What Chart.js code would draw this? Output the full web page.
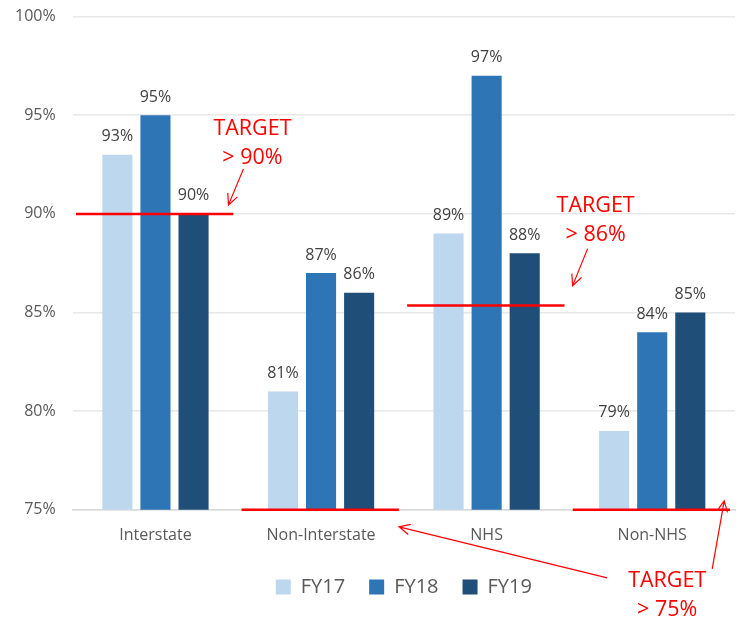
<!DOCTYPE html>
<html>
<head>
<meta charset="utf-8">
<script src="https://cdn.jsdelivr.net/npm/chart.js@4/dist/chart.umd.min.js"></script>
<style>
  html, body { margin: 0; padding: 0; background: #fff; overflow: hidden; }
  #wrap { width: 740px; height: 619px; overflow: hidden; }
  #chart { display: block; margin-top: -10px; }
</style>
</head>
<body>
<div id="wrap"><canvas id="chart" width="740" height="629"></canvas></div>
<script>
// Categories and values
const categories = ['Interstate', 'Non-Interstate', 'NHS', 'Non-NHS'];
const fy17 = [93, 81, 89, 79];
const fy18 = [95, 87, 97, 84];
const fy19 = [90, 86, 88, 85];
// where each red target line sits (NHS line is drawn a bit under 86)
const targetLines = [90, 75, 85.35, 75];
const yTicks = [75, 80, 85, 90, 95, 100];

const FONT = "'Open Sans', 'Noto Sans', sans-serif";
const RED = '#ff0000';

function arrow(ctx, x1, y1, x2, y2) {
  const ang = Math.atan2(y2 - y1, x2 - x1);
  const len = 12;
  ctx.beginPath();
  ctx.moveTo(x1, y1);
  ctx.lineTo(x2, y2);
  ctx.moveTo(x2 - len * Math.cos(ang - 0.45), y2 - len * Math.sin(ang - 0.45));
  ctx.lineTo(x2, y2);
  ctx.lineTo(x2 - len * Math.cos(ang + 0.45), y2 - len * Math.sin(ang + 0.45));
  ctx.stroke();
}

function targetText(ctx, x, y, pct) {
  ctx.fillStyle = RED;
  ctx.font = '21.5px ' + FONT;
  ctx.textAlign = 'center';
  ctx.textBaseline = 'middle';
  ctx.fillText('TARGET', x, y);
  ctx.fillText('> ' + pct + '%', x, y + 29);
}

const extrasPlugin = {
  id: 'extras',
  afterDatasetsDraw(chart) {
    const ctx = chart.ctx;
    const xs = chart.scales.x, ys = chart.scales.y;
    const w = (chart.chartArea.right - chart.chartArea.left) / categories.length;

    // value labels above bars
    ctx.save();
    ctx.font = '16px ' + FONT;
    ctx.fillStyle = '#404040';
    ctx.textAlign = 'center';
    ctx.textBaseline = 'bottom';
    chart.data.datasets.forEach((ds, i) => {
      chart.getDatasetMeta(i).data.forEach((bar, j) => {
        ctx.fillText(ds.data[j] + '%', bar.x, bar.y - 10);
      });
    });
    ctx.restore();

    // red target lines
    ctx.save();
    ctx.strokeStyle = RED;
    ctx.lineWidth = 2.5;
    targetLines.forEach((t, i) => {
      const cx = xs.getPixelForValue(i);
      const y = ys.getPixelForValue(t);
      ctx.beginPath();
      ctx.moveTo(cx - 0.48 * w, y);
      ctx.lineTo(cx + 0.47 * w, y);
      ctx.stroke();
    });
    ctx.restore();

    // annotations
    ctx.save();
    ctx.strokeStyle = RED;
    ctx.lineWidth = 1.2;
    const c0 = xs.getPixelForValue(0), c2 = xs.getPixelForValue(2), c3 = xs.getPixelForValue(3);
    const y0 = ys.getPixelForValue(targetLines[0]);
    const y2 = ys.getPixelForValue(targetLines[2]);
    const yb = ys.getPixelForValue(75);

    targetText(ctx, c0 + 97, y0 - 85, 90);
    arrow(ctx, c0 + 88, y0 - 45, c0 + 73, y0 - 9);

    targetText(ctx, c2 + 109, y2 - 100, 86);
    arrow(ctx, c2 + 101, y2 - 57, c2 + 86, y2 - 20);

    targetText(ctx, c3 + 15, yb + 71, 75);
    arrow(ctx, c3 - 45, yb + 68, xs.getPixelForValue(1) + 78, yb + 17);
    arrow(ctx, c3 + 60, yb + 59, c3 + 72, yb - 9);
    ctx.restore();
  }
};

new Chart(document.getElementById('chart'), {
  type: 'bar',
  data: {
    labels: categories,
    datasets: [
      { label: 'FY17', data: fy17, backgroundColor: '#bdd7ee' },
      { label: 'FY18', data: fy18, backgroundColor: '#2e75b6' },
      { label: 'FY19', data: fy19, backgroundColor: '#1f4e79' }
    ]
  },
  options: {
    responsive: false,
    animation: false,
    categoryPercentage: 0.69,
    barPercentage: 0.79,
    layout: { padding: { top: 0, right: 5, left: -2, bottom: 12 } },
    scales: {
      y: {
        min: 75,
        max: 100,
        afterBuildTicks(axis) { axis.ticks = yTicks.map(v => ({ value: v })); },
        ticks: {
          callback: v => v + '%',
          color: '#595959',
          font: { family: FONT, size: 16 },
          padding: 17
        },
        grid: { color: '#e8e8e8', lineWidth: 1.5, drawTicks: false },
        border: { display: false }
      },
      x: {
        ticks: {
          color: '#595959',
          font: { family: FONT, size: 16 },
          padding: 8
        },
        grid: { display: false },
        border: { color: '#d9d9d9', width: 1.5 }
      }
    },
    plugins: {
      legend: {
        position: 'bottom',
        fullSize: false,
        labels: {
          color: '#595959',
          font: { family: FONT, size: 20 },
          boxWidth: 15,
          boxHeight: 15,
          padding: 24
        }
      },
      tooltip: { enabled: false }
    }
  },
  plugins: [extrasPlugin]
});
</script>
</body>
</html>
